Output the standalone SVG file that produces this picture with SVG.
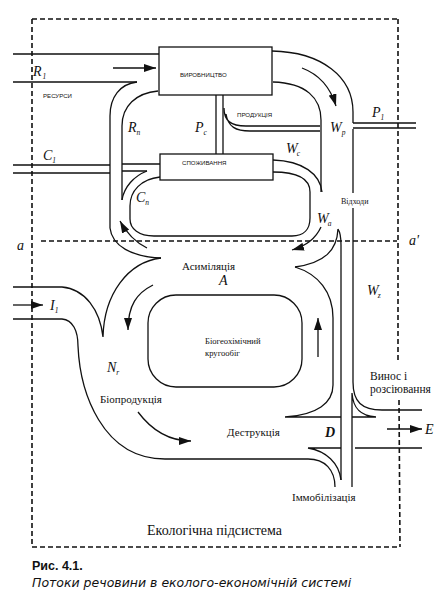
<svg xmlns="http://www.w3.org/2000/svg" width="443" height="591" viewBox="0 0 443 591">
<style>
.ln{fill:none;stroke:#111;stroke-width:1.3}
.ds{fill:none;stroke:#111;stroke-width:1.6;stroke-dasharray:5,3}
.ar{fill:none;stroke:#111;stroke-width:1.3;marker-end:url(#ah)}
.box{fill:#fff;stroke:#111;stroke-width:1.3}
.cap{font-family:"Liberation Sans",Arial,sans-serif;font-size:6.1px;fill:#111}
.ser{font-family:"Liberation Serif","Times New Roman",serif;fill:#111}
.sym{font-family:"Liberation Serif","Times New Roman",serif;font-style:italic;font-size:14px;fill:#111}
.sub{font-size:7.5px}
</style>
<defs>
<marker id="ah" markerWidth="12" markerHeight="8" refX="12" refY="4" orient="auto" markerUnits="userSpaceOnUse"><path d="M0,0 L12,4 L0,8 z" fill="#111"/></marker>
</defs>
<rect width="443" height="591" fill="#fff"/>

<g id="frame">
<path class="ds" d="M32,19 L398,19 M32,19 L32,547 M32,547 L400,547 M398,19 L398,360 M399,400 L400,547"/>
<path class="ds" d="M41,241 L397,241"/>
</g>

<g id="connectors">
<path class="ln" d="M13,54 L159,54 M13,82 L137,82"/>
<path class="ln" d="M137,82 C120,84 110,97 110,116 L110,228 C112,246 132,257 161,258"/>
<path class="ln" d="M158,91 C136,93 122,106 122,126 L122,200"/>
<path class="ln" d="M13,165 L110,165 M122,164 L160,164 M13,173 L110,173 M122,171 L147,171"/>
<path class="ln" d="M147,171 C134,176 124,187 122,200"/>
<path class="ln" d="M160,177 C141,179 130,191 130,206 L130,219 C130,229 139,236 154,236 L292,236 C304,236 310,229 310,218 L310,192 C310,179 297,172 273,172"/>
<path class="ln" d="M273,160 C303,161 320,174 322,192"/>
<path class="ln" d="M272,51 C322,52 353,77 353,112 L353,123 M353,129 L353,193 M353,208 L353,382 C353,402 362,410 382,410 L422,410"/>
<path class="ln" d="M273,82 C306,83 321,98 321,120 L321,192"/>
<path class="ln" d="M353,123 L416,123 M353,128 L416,128"/>
<path class="ln" d="M216,95 L216,154 M223,95 L223,154"/>
<path class="ln" d="M224,108 C224,121 231,126 246,126 L320,126 M226,114 C228,127 236,131 250,131 L320,131"/>
<path class="ln" d="M338,229 C340,232 341,238 341,245 L341,480 M338,229 C337,250 325,263 295,267"/>
<path class="ln" d="M295,267 C318,274 333,292 333,318 L333,385 C333,403 317,415 285,417 L341,417"/>
<path class="ln" d="M352,393 C353,408 360,416 376,417 L352,417 M352,393 L352,487 M355,448 L422,448"/>
<path class="ln" d="M341,448 L308,448 C326,451 339,463 341,480"/>
<path class="ln" d="M13,319 L62,319 C73,320 78,331 78,346 C80,392 102,459 165,459 L308,459 C325,459 335,470 335,487"/>
<path class="ln" d="M13,287 L62,287 C85,289 100,310 103,337 M161,258 C128,262 104,294 103,337"/>
<path class="ar" d="M113,68 L156,68"/>
<path class="ar" d="M302,68 C318,74 330,86 336,106"/>
<path class="ar" d="M321,227 C316,238 306,246 292,250"/>
<path class="ar" d="M147,248 C137,243 127,234 120,221"/>
<path class="ar" d="M153,285 C137,293 128,305 128,330"/>
<path class="ar" d="M318,357 L318,318"/>
<path class="ar" d="M138,412 C150,428 168,441 191,441"/>
<path class="ar" d="M13,305 L43,305"/>
<path class="ar" d="M387,429 L422,429"/>
</g>

<g id="production">
<rect class="box" x="159" y="47" width="113" height="48"/>
<text class="cap" x="180" y="77">ВИРОБНИЦТВО</text>
</g>
<g id="consumption">
<rect class="box" x="160" y="154" width="113" height="26"/>
<text class="cap" x="182" y="165">СПОЖИВАННЯ</text>
</g>
<g id="biocycle">
<rect class="ln" x="148" y="295" width="154" height="92" rx="28"/>
<text class="ser" font-size="8.6" x="205" y="344">Біогеохімічний</text>
<text class="ser" font-size="8.6" x="205" y="356">кругообіг</text>
</g>

<g id="labels">
<text class="cap" x="43" y="98">РЕСУРСИ</text>
<text class="cap" x="237" y="117">ПРОДУКЦІЯ</text>
<text class="ser" font-size="8" x="341" y="204">Відходи</text>
<text class="ser" font-size="11" x="182" y="270">Асиміляція</text>
<text class="ser" font-size="11" x="100" y="403">Біопродукція</text>
<text class="ser" font-size="11" x="227" y="436">Деструкція</text>
<text class="ser" font-size="11" x="292" y="501">Іммобілізація</text>
<text class="ser" font-size="11.5" x="370" y="380">Винос і</text>
<text class="ser" font-size="11.5" x="370" y="393">розсіювання</text>
<text class="ser" font-size="14" x="147" y="535">Екологічна підсистема</text>

<text class="sym" x="33" y="76">R<tspan class="sub" dx="1" dy="3">1</tspan></text>
<text class="sym" x="128" y="132">R<tspan class="sub" dx="0" dy="3">n</tspan></text>
<text class="sym" x="195" y="132">P<tspan class="sub" dx="0" dy="3">c</tspan></text>
<text class="sym" x="330" y="132">W<tspan class="sub" dx="0" dy="3">p</tspan></text>
<text class="sym" x="372" y="117">P<tspan class="sub" dx="0" dy="3">1</tspan></text>
<text class="sym" x="43" y="160">C<tspan class="sub" dx="0" dy="3">1</tspan></text>
<text class="sym" x="286" y="153">W<tspan class="sub" dx="-1" dy="3">c</tspan></text>
<text class="sym" x="136" y="202">C<tspan class="sub" dx="0" dy="3">n</tspan></text>
<text class="sym" x="317" y="223">W<tspan class="sub" dx="-1" dy="3">a</tspan></text>
<text class="sym" x="367" y="295">W<tspan class="sub" dx="-1" dy="3">z</tspan></text>
<text class="sym" x="50" y="310">I<tspan class="sub" dx="0" dy="3">1</tspan></text>
<text class="sym" x="107" y="372">N<tspan class="sub" dx="0" dy="3">r</tspan></text>
<text class="sym" x="17" y="250">a</text>
<text class="sym" x="409" y="245">a'</text>
<text class="sym" x="219" y="285">A</text>
<text class="sym" font-weight="bold" x="325" y="437">D</text>
<text class="sym" x="425" y="434">E</text>
</g>

<g id="caption">
<text font-family="'Liberation Sans',Arial,sans-serif" font-weight="bold" font-size="12.5" fill="#111" x="32" y="570">Рис. 4.1.</text>
<text font-family="'DejaVu Sans',Verdana,sans-serif" font-style="italic" font-size="12.5" fill="#111" x="32" y="587">Потоки речовини в еколого-економічній системі</text>
</g>
</svg>
